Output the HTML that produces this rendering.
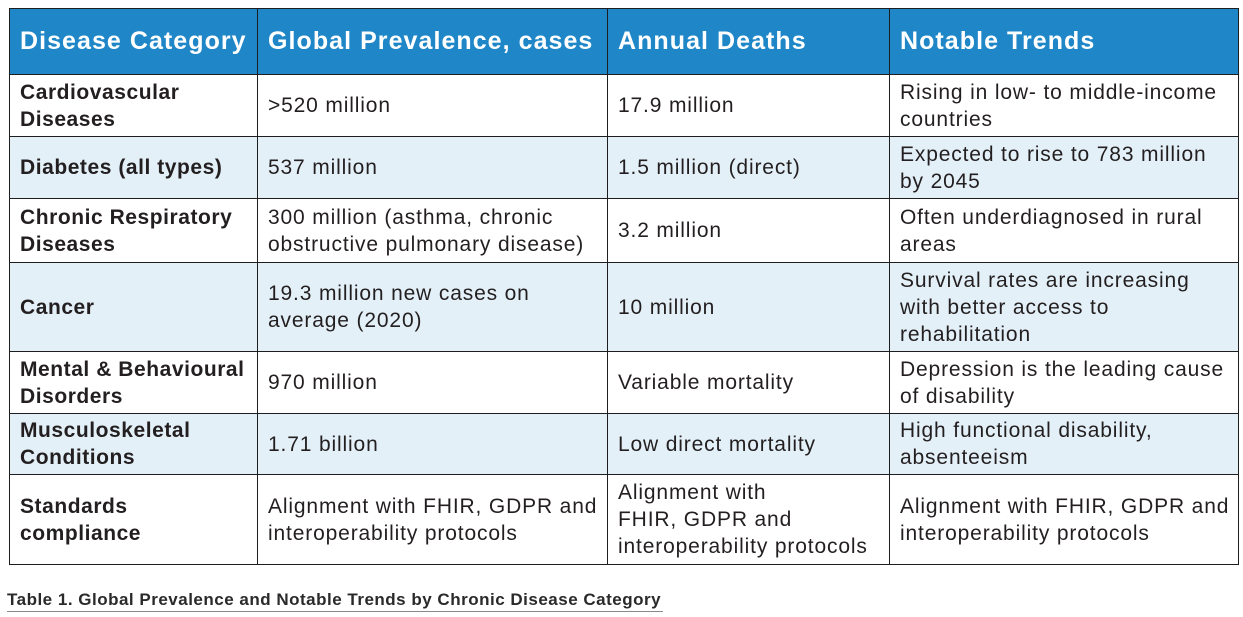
<!DOCTYPE html>
<html>
<head>
<meta charset="utf-8">
<style>
  html, body { margin:0; padding:0; background:#ffffff; }
  body { width:1243px; height:617px; position:relative; overflow:hidden;
         font-family:"Liberation Sans", Arial, sans-serif; color:#231f20; }
  .tbl { position:absolute; left:9px; top:8px;
         border-top:1px solid #1e1e1e; border-left:1px solid #1e1e1e;
         display:grid;
         grid-template-columns:248px 350px 282px 349px;
         grid-template-rows:66px 62px 62px 64px 89px 62px 61px 90px; }
  .c { box-sizing:border-box; border-right:1px solid #1e1e1e; border-bottom:1px solid #1e1e1e;
       padding:0 0 0 10px; display:flex; align-items:center;
       font-size:21px; line-height:27px; letter-spacing:0.85px; white-space:nowrap; }
  .h { background:#1f87c8; color:#ffffff; font-weight:bold; font-size:25px; letter-spacing:1.05px; }
  .b { font-weight:bold; letter-spacing:0.55px; }
  .l { background:#e4f0f8; }
  .cap { position:absolute; left:7px; top:590px; font-size:17px; font-weight:bold;
         color:#2a2a2a; letter-spacing:0.5px; white-space:nowrap; line-height:20px; }
  .capline { position:absolute; left:7px; top:611px; width:656px; height:1px; background:#8a8a8a; }
</style>
</head>
<body>
<div class="tbl">
  <div class="c h">Disease Category</div>
  <div class="c h">Global Prevalence, cases</div>
  <div class="c h">Annual Deaths</div>
  <div class="c h">Notable Trends</div>

  <div class="c b">Cardiovascular<br>Diseases</div>
  <div class="c">&gt;520 million</div>
  <div class="c">17.9 million</div>
  <div class="c">Rising in low- to middle-income<br>countries</div>

  <div class="c b l">Diabetes (all types)</div>
  <div class="c l">537 million</div>
  <div class="c l">1.5 million (direct)</div>
  <div class="c l">Expected to rise to 783 million<br>by 2045</div>

  <div class="c b">Chronic Respiratory<br>Diseases</div>
  <div class="c">300 million (asthma, chronic<br>obstructive pulmonary disease)</div>
  <div class="c">3.2 million</div>
  <div class="c">Often underdiagnosed in rural<br>areas</div>

  <div class="c b l">Cancer</div>
  <div class="c l">19.3 million new cases on<br>average (2020)</div>
  <div class="c l">10 million</div>
  <div class="c l">Survival rates are increasing<br>with better access to<br>rehabilitation</div>

  <div class="c b">Mental &amp; Behavioural<br>Disorders</div>
  <div class="c">970 million</div>
  <div class="c">Variable mortality</div>
  <div class="c">Depression is the leading cause<br>of disability</div>

  <div class="c b l">Musculoskeletal<br>Conditions</div>
  <div class="c l">1.71 billion</div>
  <div class="c l">Low direct mortality</div>
  <div class="c l">High functional disability,<br>absenteeism</div>

  <div class="c b">Standards<br>compliance</div>
  <div class="c">Alignment with FHIR, GDPR and<br>interoperability protocols</div>
  <div class="c">Alignment with<br>FHIR, GDPR and<br>interoperability protocols</div>
  <div class="c">Alignment with FHIR, GDPR and<br>interoperability protocols</div>
</div>
<div class="cap">Table 1. Global Prevalence and Notable Trends by Chronic Disease Category</div>
<div class="capline"></div>
</body>
</html>
